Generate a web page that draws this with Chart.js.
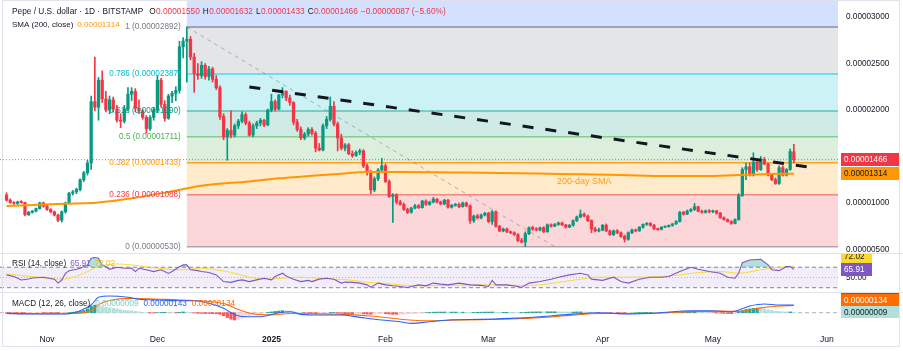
<!DOCTYPE html>
<html>
<head>
<meta charset="utf-8">
<title>Pepe / U.S. dollar 1D</title>
<script src="https://cdn.jsdelivr.net/npm/chart.js"></script>
<style>
  html, body { margin: 0; padding: 0; background: #ffffff; }
  #wrap { position: relative; width: 903px; height: 351px; overflow: hidden; background: #ffffff; }
  #wrap canvas { position: absolute; left: 0; }
  .sep { position: absolute; left: 0; width: 903px; height: 1px; background: #e0e3eb; }
  #frame { position: absolute; left: 2px; top: 0; width: 896px; height: 345px; border: 1px solid #e0e3eb; pointer-events: none; }
</style>
</head>
<body>
<div id="wrap">
  <canvas id="priceChart" width="903" height="256" style="top:0;width:903px;height:256px"></canvas>
  <canvas id="rsiChart" width="903" height="37" style="top:254px;width:903px;height:37px"></canvas>
  <canvas id="macdChart" width="903" height="58" style="top:293px;width:903px;height:58px"></canvas>
  <div class="sep" style="top:253px"></div>
  <div class="sep" style="top:292px"></div>
  <div id="frame"></div>
</div>
<script>
// prices are in units of 0.00000001 USD, days are counted from 1 Nov 2024
const UNIT = 1e-8;
const FIRST_DAY = -11; // 21 Oct 2024

const opens = [
  1086,1030,1005,995,1012,1005,875,900,912,940,
  1000,965,930,905,870,815,905,1000,1105,1120,
  1145,1250,1325,1430,2090,2030,2320,2120,2000,2110,
  2010,1890,1880,2010,2170,2200,2020,1990,1920,1800,
  1920,2000,2320,2060,1910,2150,2180,2210,2680,2740,
  2760,2570,2390,2370,2480,2360,2440,2330,2240,1930,
  1710,1780,1730,1830,1880,1950,1860,1730,1830,1860,
  1890,1840,2000,2090,2010,2160,2200,2130,2080,1870,
  1790,1700,1740,1790,1750,1590,1570,1830,1900,2040,
  1850,1700,1590,1625,1530,1510,1545,1560,1400,1330,
  1140,1260,1355,1400,1230,1070,1085,1010,985,930,
  900,945,970,950,1020,985,1010,1040,1010,990,
  1030,955,975,985,960,1000,970,810,860,840,
  870,890,800,905,750,700,720,690,680,660,
  595,580,670,735,720,710,735,690,765,750,
  770,785,765,740,760,810,850,880,860,810,
  720,700,710,760,700,660,700,680,640,610,
  680,710,700,740,770,780,760,720,715,740,
  745,760,775,800,900,880,915,930,960,910,
  900,915,905,915,890,840,820,800,780,820,
  1080,1360,1390,1300,1440,1360,1470,1420,1300,1250,
  1210,1380,1300,1360,1550
];
const highs = [
  1110,1045,1015,1020,1025,1010,910,920,945,1010,
  1010,975,940,915,880,915,1010,1115,1135,1160,
  1260,1340,1460,2150,2570,2350,2420,2200,2150,2140,
  2050,1960,2050,2240,2240,2230,2110,2010,1940,1940,
  2030,2370,2340,2100,2170,2200,2250,2740,2780,2892,
  2790,2610,2500,2520,2500,2470,2460,2370,2260,1960,
  1800,1990,1850,1900,1980,1970,1880,1850,1880,1910,
  1900,2010,2170,2110,2170,2240,2210,2160,2090,1900,
  1820,1760,1810,1810,1770,1640,1850,1930,2140,2090,
  1870,1740,1640,1640,1560,1560,1580,1575,1420,1350,
  1280,1370,1480,1420,1250,1100,1100,1030,1000,945,
  955,985,985,1030,1035,1020,1060,1050,1020,1040,
  1040,985,995,1000,1010,1010,980,870,880,880,
  900,900,920,915,760,730,730,700,690,670,
  620,690,745,750,735,740,745,775,775,780,
  795,795,770,770,820,860,925,895,870,820,
  740,730,770,775,710,710,715,690,655,690,
  720,720,745,775,790,790,770,730,745,755,
  765,780,810,910,910,925,940,995,965,925,
  925,930,925,920,900,850,830,810,830,1100,
  1380,1430,1430,1540,1460,1500,1490,1430,1320,1270,
  1400,1400,1370,1580,1632
];
const lows = [
  1020,995,985,985,998,860,865,890,905,935,
  955,920,895,860,800,795,890,990,1085,1100,
  1130,1230,1300,1360,1990,1890,2080,1980,1960,1980,
  1870,1810,1860,1990,2100,1980,1960,1900,1750,1780,
  1890,1970,2030,1880,1900,2080,2100,2180,2560,2300,
  2540,2190,2330,2340,2330,2320,2300,2220,1900,1680,
  1460,1700,1710,1800,1860,1840,1720,1710,1800,1830,
  1820,1830,1980,1990,2000,2130,2100,2050,1840,1770,
  1680,1680,1720,1730,1550,1560,1560,1800,1880,1830,
  1560,1570,1560,1520,1490,1500,1520,1380,1300,1100,
  1120,1240,1340,1220,1060,790,990,975,920,885,
  890,935,940,945,975,975,1000,1000,980,980,
  945,945,965,950,955,960,780,790,830,830,
  860,790,770,740,690,690,680,670,650,585,
  570,530,660,705,700,700,680,685,740,745,
  760,755,730,735,750,800,840,850,800,680,
  690,690,700,690,650,650,670,630,580,600,
  670,690,695,730,760,750,715,705,710,735,
  740,750,770,795,870,875,905,920,905,890,
  890,895,895,880,835,815,795,770,775,815,
  1070,1250,1290,1290,1340,1350,1410,1290,1240,1200,
  1200,1290,1290,1350,1433
];
const closes = [
  1030,1005,995,1012,1005,875,900,912,940,1000,
  965,930,905,870,815,905,1000,1105,1120,1145,
  1250,1325,1430,2090,2030,2320,2120,2000,2110,2010,
  1890,1880,2010,2170,2200,2020,1990,1920,1800,1920,
  2000,2320,2060,1910,2150,2180,2210,2680,2740,2760,
  2570,2390,2370,2480,2360,2440,2330,2240,1930,1710,
  1780,1730,1830,1880,1950,1860,1730,1830,1860,1890,
  1840,2000,2090,2010,2160,2200,2130,2080,1870,1790,
  1700,1740,1790,1750,1590,1570,1830,1900,2040,1850,
  1700,1590,1625,1530,1510,1545,1560,1400,1330,1140,
  1260,1355,1400,1230,1070,1085,1010,985,930,900,
  945,970,950,1020,985,1010,1040,1010,990,1030,
  955,975,985,960,1000,970,810,860,840,870,
  890,800,905,750,700,720,690,680,660,595,
  580,670,735,720,710,735,690,765,750,770,
  785,765,740,760,810,850,880,860,810,720,
  700,710,760,700,660,700,680,640,610,680,
  710,700,740,770,780,760,720,715,740,745,
  760,775,800,900,880,915,930,960,910,900,
  915,905,915,890,840,820,800,780,820,1080,
  1360,1390,1300,1440,1360,1470,1420,1300,1250,1210,
  1380,1300,1360,1553,1466
];

const smaDays = [-11, 1, 14, 23, 33, 42, 55, 63, 69, 78, 88, 96, 110, 123, 139, 156, 168, 178, 188, 197, 203];
const smaValues = [968, 986, 1005, 1050, 1118, 1186, 1232, 1265, 1283, 1310, 1333, 1333, 1328, 1323, 1312, 1301, 1290, 1290, 1301, 1312, 1314];

const rsiDays = [-11,-9,-7,-5,-4,-1,2,3,4,5,6,8,9,11,12,13,14,15,16,17,19,21,23,24,25,27,29,31,33,34,36,37,38,39,41,42,44,46,48,50,52,53,55,57,59,61,62,64,65,67,69,71,72,74,76,78,80,81,83,85,87,88,90,92,94,96,98,99,101,103,105,107,109,112,115,118,120,121,122,125,128,129,131,134,137,139,142,145,147,148,151,154,156,158,161,164,167,169,172,175,177,180,183,185,187,188,189,191,194,196,197,199,201,202,203];
const rsiValues = [55,52,45,47,49,50.5,46.7,39,45,58,63,66,68,74.5,87.5,89,87.5,74.5,71,66,70,68,68,61.5,68,65,61.5,65,58,61.5,71,74.5,74.5,65,63.4,61.5,59.6,55,42,40.4,44.3,45.3,42,45.3,48.6,45.3,51.8,58.3,53,46.7,42,44.3,42,46.7,48.6,46.7,39,41,40.4,39,35.6,31,39,35.6,33.7,32.4,30.4,32.4,35.6,33.7,39,37,35.6,39,35.6,34.6,32.4,44.3,35.6,35.6,32.4,30.4,39,42,46.7,50.5,55,58.3,55,46.7,44.3,50.5,42,39,46.7,50.5,50.5,51.8,61.5,70,66,61.5,58.3,50.5,48.6,58.3,79,84,85.5,74.5,65,63.4,71.2,71.2,65.91];
const rsiMaDays = [-11,-4,4,9,14,19,23,28,33,37,42,46,51,55,60,64,69,73,78,82,87,91,96,101,110,118,129,134,139,145,150,158,167,172,177,183,188,194,199,203];
const rsiMaValues = [56.5,51.8,46.7,55,71.2,76.4,74.5,70,66,65,68,65,58.3,50.5,46.7,48.6,50.5,48.6,46.7,45.3,40.4,39,35.6,33.7,34.6,35.6,34.6,35.6,40.4,46.7,50.5,50.5,51.8,55,59.6,61.5,58.3,65,70,72.02];
const rsiLevels = [30, 50, 70];

const macdDays = [-11,-4,5,9,12,14,17,22,25,31,36,40,44,48,51,54,58,63,66,69,74,80,85,91,96,99,104,110,118,126,134,142,150,158,167,175,180,186,191,195,199,203];
const macdValues = [-12,-24,-24,37,142,285,309,285,248,235,222,222,174,81,-37,-74,-74,0,19,-30,-43,-43,-86,-135,-166,-197,-166,-130,-123,-105,-74,-31,0,-24,0,37,37,19,124,161,142,143];
const signalDays = [-11,1,9,12,14,17,23,31,40,45,49,52,56,61,66,71,80,88,96,104,110,118,126,134,142,150,158,167,175,183,188,194,199,203];
const signalValues = [-15,-20,-10,40,150,225,265,250,225,200,150,60,-20,-40,-15,-20,-30,-60,-120,-150,-140,-130,-115,-90,-50,-15,-15,-5,20,30,25,90,125,134];
const histValues = [
  -8,-10,-12,-14,-15,-18,-16,-14,-10,-6,
  -8,-10,-12,-14,-14,-10,-4,4,10,18,
  25,40,70,120,140,130,115,100,90,80,
  70,55,45,40,35,25,15,8,0,-5,
  -5,0,5,8,5,0,-3,8,15,12,
  5,-5,-10,-12,-15,-15,-18,-20,-30,-55,
  -90,-120,-135,-125,-100,-75,-55,-40,-25,-15,
  -5,5,15,25,32,38,35,30,20,10,
  0,-5,-8,-12,-20,-18,-12,-5,2,5,
  -5,-12,-18,-20,-22,-20,-18,-20,-25,-30,
  -25,-20,-15,-18,-25,-30,-30,-28,-25,-22,
  -18,-12,-8,-2,2,5,10,12,12,14,
  12,12,12,10,10,8,5,6,8,10,
  12,12,14,10,8,8,8,6,5,3,
  4,8,12,15,16,17,16,18,18,18,
  17,15,13,12,13,15,16,14,10,5,
  0,-3,-2,-4,-6,-5,-6,-8,-10,-6,
  -2,0,3,5,6,6,5,3,4,5,
  6,8,10,14,14,15,15,16,12,8,
  5,2,-2,-5,-8,-12,-15,-18,-15,10,
  40,60,70,80,85,80,70,55,40,28,
  25,18,14,15,9
];

const monthDays = [0, 30, 61, 92, 120, 151, 181, 212];
const monthLabels = ['Nov', 'Dec', '2025', 'Feb', 'Mar', 'Apr', 'May', 'Jun'];
const priceTicks = [500, 1000, 1500, 2000, 2500, 3000];

const fibRatios = ['0', '0.236', '0.382', '0.5', '0.618', '0.786', '1'];
const fibPrices = [530, 1088, 1433, 1711, 1990, 2387, 2892];
const fibStartDay = 38, fibEndDay = 138;
const trendDays = [55, 209];
const trendPrices = [2247, 1376];
const smaNoteDay = 146, smaNotePrice = 1226;

// styles
const GREEN = '#089981', RED = '#f23645', ORANGE = '#ff9800';
const TEXT = '#131722';
const FONT = '"Liberation Sans", Arial, sans-serif';
const FIB_ABOVE = 'rgba(41,98,255,0.2)';
const FIB_FILLS = ['rgba(242,54,69,0.2)', 'rgba(255,152,0,0.2)', 'rgba(76,175,80,0.2)', 'rgba(8,153,129,0.2)', 'rgba(0,188,212,0.2)', 'rgba(120,123,134,0.2)'];
const FIB_LINES = ['rgba(120,123,134,0.6)', 'rgba(242,54,69,0.55)', 'rgba(255,152,0,0.85)', 'rgba(76,175,80,0.55)', 'rgba(8,153,129,0.55)', 'rgba(0,188,212,0.55)', 'rgba(120,123,134,0.8)'];
const FIB_TEXT = ['#787b86', '#f23645', '#ff9800', '#4caf50', '#089981', '#00bcd4', '#787b86'];
const X_MIN = -12.78, X_MAX = 215.0;

const last = closes.length - 1;
const fmt8 = v => v.toFixed(8);
const px = v => fmt8(v * UNIT);
const candleColor = i => (closes[i] >= opens[i] ? GREEN : RED);
const histColor = i => {
  const v = histValues[i], p = i > 0 ? histValues[i - 1] : 0;
  if (v >= 0) return v >= p ? '#26a69a' : '#b2dfdb';
  return v <= p ? '#ff5252' : '#ffcdd2';
};
const points = (days, vals, k) => days.map((d, i) => ({ x: d, y: vals[i] * k }));

function xAxis(show) {
  return {
    type: 'linear', min: X_MIN, max: X_MAX, offset: false, display: show,
    grid: { display: false, drawTicks: false }, border: { display: false },
    afterBuildTicks: s => { s.ticks = monthDays.map(v => ({ value: v })); },
    afterFit: s => { s.height = show ? 21 : 0; s.paddingLeft = 0; s.paddingRight = 0; },
    ticks: {
      autoSkip: false, maxRotation: 0, padding: 4, color: TEXT,
      callback: v => monthLabels[monthDays.indexOf(v)],
      font: c => ({ family: FONT, size: 8.6, weight: monthLabels[c.index] === '2025' ? 'bold' : 'normal' })
    }
  };
}
function yAxis(min, max, tickValues, fmt, showTicks) {
  return {
    position: 'right', min: min, max: max,
    grid: { display: false, drawTicks: true, tickLength: 8 }, border: { display: false },
    afterBuildTicks: s => { s.ticks = tickValues.map(v => ({ value: v })); },
    afterFit: s => { s.width = 65; s.paddingTop = 0; s.paddingBottom = 0; },
    ticks: { display: showTicks, padding: 0, color: TEXT, font: { family: FONT, size: 8.2 }, callback: fmt }
  };
}
const baseOptions = {
  responsive: false, animation: false, events: [],
  plugins: { legend: { display: false }, tooltip: { enabled: false } }
};

function segments(ctx, x, y, segs, size) {
  ctx.font = size + 'px ' + FONT;
  ctx.textBaseline = 'middle';
  ctx.textAlign = 'left';
  segs.forEach(s => {
    ctx.fillStyle = s[1];
    ctx.fillText(s[0], x, y);
    x += ctx.measureText(s[0]).width + (s[2] || 0);
  });
}
function tag(ctx, x, cy, w, h, bg, fg, text) {
  ctx.fillStyle = bg;
  ctx.fillRect(x, Math.round(cy - h / 2), w, h);
  ctx.font = '8.2px ' + FONT;
  ctx.fillStyle = fg;
  ctx.textAlign = 'left';
  ctx.textBaseline = 'middle';
  ctx.fillText(text, x + 3, Math.round(cy - h / 2) + h / 2 + 0.5);
}

const priceOverlay = {
  id: 'priceOverlay',
  beforeDatasetsDraw(chart) {
    const { ctx, chartArea: a, scales: { x, y } } = chart;
    const x0 = x.getPixelForValue(fibStartDay);
    const ys = fibPrices.map(p => y.getPixelForValue(p * UNIT));
    ctx.save();
    ctx.fillStyle = FIB_ABOVE;
    ctx.fillRect(x0, a.top, a.right - x0, ys[ys.length - 1] - a.top);
    for (let i = 0; i < ys.length - 1; i++) {
      ctx.fillStyle = FIB_FILLS[i];
      ctx.fillRect(x0, ys[i + 1], a.right - x0, ys[i] - ys[i + 1]);
    }
    ctx.lineWidth = 1.5;
    ys.forEach((yy, i) => {
      ctx.strokeStyle = FIB_LINES[i];
      ctx.beginPath(); ctx.moveTo(x0, yy); ctx.lineTo(a.right, yy); ctx.stroke();
    });
    ctx.setLineDash([4, 4]);
    ctx.lineWidth = 1;
    ctx.strokeStyle = 'rgba(120,123,134,0.55)';
    ctx.beginPath();
    ctx.moveTo(x0, ys[ys.length - 1]);
    ctx.lineTo(x.getPixelForValue(fibEndDay), ys[0]);
    ctx.stroke();
    ctx.restore();
  },
  afterDatasetsDraw(chart) {
    const { ctx, chartArea: a, scales: { x, y } } = chart;
    ctx.save();
    // last price line
    const yl = y.getPixelForValue(closes[last] * UNIT);
    ctx.setLineDash([1, 2]);
    ctx.lineWidth = 1;
    ctx.strokeStyle = 'rgba(242,54,69,0.75)';
    ctx.beginPath(); ctx.moveTo(a.left, yl); ctx.lineTo(a.right, yl); ctx.stroke();
    // falling trend line
    ctx.setLineDash([11, 12]);
    ctx.lineWidth = 3;
    ctx.strokeStyle = '#131722';
    ctx.beginPath();
    ctx.moveTo(x.getPixelForValue(trendDays[0]), y.getPixelForValue(trendPrices[0] * UNIT));
    ctx.lineTo(x.getPixelForValue(trendDays[1]), y.getPixelForValue(trendPrices[1] * UNIT));
    ctx.stroke();
    ctx.setLineDash([]);
    // note on the moving average
    ctx.font = '9px ' + FONT;
    ctx.fillStyle = 'rgba(255,152,0,0.95)';
    ctx.textAlign = 'center';
    ctx.textBaseline = 'middle';
    ctx.fillText('200-day SMA', x.getPixelForValue(smaNoteDay), y.getPixelForValue(smaNotePrice * UNIT));
    // fib labels
    const x0 = x.getPixelForValue(fibStartDay);
    ctx.font = '8.2px ' + FONT;
    ctx.textAlign = 'right';
    fibPrices.forEach((p, i) => {
      ctx.fillStyle = FIB_TEXT[i];
      ctx.fillText(fibRatios[i] + ' (' + px(p) + ')', x0 - 6, y.getPixelForValue(p * UNIT));
    });
    ctx.restore();
  },
  afterDraw(chart) {
    const { ctx, chartArea: a, scales: { y } } = chart;
    ctx.save();
    const chg = closes[last] - closes[last - 1];
    const pct = chg / closes[last - 1] * 100;
    segments(ctx, 12, 12, [
      ['Pepe / U.S. dollar \u00b7 1D \u00b7 BITSTAMP', TEXT, 6],
      ['O', TEXT, 0.3], [px(opens[last]), RED, 3],
      ['H', TEXT, 0.3], [px(highs[last]), RED, 3],
      ['L', TEXT, 0.3], [px(lows[last]), RED, 3],
      ['C', TEXT, 0.3], [px(closes[last]), RED, 3],
      [(chg < 0 ? '\u2212' : '+') + px(Math.abs(chg)) + ' (' + (pct < 0 ? '\u2212' : '+') + Math.abs(pct).toFixed(2) + '%)', RED]
    ], 8.3);
    segments(ctx, 12, 24.5, [
      ['SMA (200, close)', TEXT, 4],
      [px(smaValues[smaValues.length - 1]), ORANGE]
    ], 8.0);
    tag(ctx, a.right + 3, y.getPixelForValue(closes[last] * UNIT), 58, 13, RED, '#ffffff', px(closes[last]));
    tag(ctx, a.right + 3, y.getPixelForValue(smaValues[smaValues.length - 1] * UNIT), 58, 13, ORANGE, TEXT, px(smaValues[smaValues.length - 1]));
    ctx.restore();
  }
};

const rsiOverlay = {
  id: 'rsiOverlay',
  beforeDatasetsDraw(chart) {
    const { ctx, chartArea: a, scales: { y } } = chart;
    const ly = rsiLevels.map(v => y.getPixelForValue(v));
    ctx.save();
    ctx.fillStyle = 'rgba(126,87,194,0.1)';
    ctx.fillRect(a.left, ly[2], a.right - a.left, ly[0] - ly[2]);
    ctx.lineWidth = 1;
    ctx.setLineDash([4, 3]);
    ctx.strokeStyle = 'rgba(120,123,134,0.9)';
    [ly[0], ly[2]].forEach(yy => { ctx.beginPath(); ctx.moveTo(a.left, yy); ctx.lineTo(a.right, yy); ctx.stroke(); });
    ctx.setLineDash([1, 2]);
    ctx.strokeStyle = 'rgba(120,123,134,0.5)';
    ctx.beginPath(); ctx.moveTo(a.left, ly[1]); ctx.lineTo(a.right, ly[1]); ctx.stroke();
    ctx.restore();
  },
  afterDraw(chart) {
    const { ctx, chartArea: a, scales: { y } } = chart;
    const r = rsiValues[rsiValues.length - 1], m = rsiMaValues[rsiMaValues.length - 1];
    ctx.save();
    segments(ctx, 12, 10, [['RSI (14, close)', TEXT, 4], [r.toFixed(2), '#7e57c2', 4], [m.toFixed(2), '#e6bf1a']], 8.2);
    const cy = y.getPixelForValue(r);
    tag(ctx, a.right + 3, cy - 13, 31, 13, '#fdd835', TEXT, m.toFixed(2));
    tag(ctx, a.right + 3, cy, 31, 13, '#7e57c2', '#ffffff', r.toFixed(2));
    ctx.restore();
  }
};

const macdOverlay = {
  id: 'macdOverlay',
  beforeDatasetsDraw(chart) {
    const { ctx, chartArea: a, scales: { y } } = chart;
    const y0 = y.getPixelForValue(0);
    ctx.save();
    ctx.setLineDash([4, 3]);
    ctx.lineWidth = 1;
    ctx.strokeStyle = 'rgba(120,123,134,0.6)';
    ctx.beginPath(); ctx.moveTo(a.left, y0); ctx.lineTo(a.right, y0); ctx.stroke();
    ctx.restore();
  },
  afterDraw(chart) {
    const { ctx, chartArea: a, scales: { y } } = chart;
    const h = histValues[histValues.length - 1];
    const mv = macdValues[macdValues.length - 1];
    const sv = signalValues[signalValues.length - 1];
    ctx.save();
    segments(ctx, 12, 10.5, [
      ['MACD (12, 26, close)', TEXT, 5],
      [px(h), '#80cbc4', 5], [px(mv), '#2962ff', 5], [px(sv), '#ff6d00']
    ], 8.2);
    const cy = y.getPixelForValue(h * UNIT);
    tag(ctx, a.right + 3, cy - 24, 58, 12, '#2962ff', '#ffffff', px(mv));
    tag(ctx, a.right + 3, cy - 12, 58, 12, '#ff6d00', '#ffffff', px(sv));
    tag(ctx, a.right + 3, cy, 58, 12, '#b2dfdb', TEXT, px(h));
    ctx.restore();
  }
};

const idx = opens.map((_, i) => i);

new Chart(document.getElementById('priceChart'), {
  type: 'bar',
  data: {
    datasets: [
      {
        type: 'line', label: 'SMA (200, close)',
        data: points(smaDays, smaValues, UNIT),
        borderColor: ORANGE, borderWidth: 2, pointRadius: 0,
        cubicInterpolationMode: 'monotone', order: 0
      },
      {
        label: 'body',
        data: idx.map(i => ({ x: FIRST_DAY + i, y: [opens[i] * UNIT, closes[i] * UNIT] })),
        backgroundColor: c => candleColor(c.dataIndex),
        barThickness: 2.6, minBarLength: 1, grouped: false, order: 1
      },
      {
        label: 'wick',
        data: idx.map(i => ({ x: FIRST_DAY + i, y: [lows[i] * UNIT, highs[i] * UNIT] })),
        backgroundColor: c => candleColor(c.dataIndex),
        barThickness: 1, grouped: false, order: 2
      }
    ]
  },
  options: Object.assign({}, baseOptions, {
    layout: { padding: { top: 0, bottom: 4, left: 0, right: 0 } },
    scales: {
      x: xAxis(false),
      y: yAxis(473.0 * UNIT, 3182.8 * UNIT, priceTicks.map(v => v * UNIT), v => fmt8(v), true)
    }
  }),
  plugins: [priceOverlay]
});

new Chart(document.getElementById('rsiChart'), {
  type: 'line',
  data: {
    datasets: [
      {
        label: 'RSI', data: points(rsiDays, rsiValues, 1),
        borderColor: '#7e57c2', borderWidth: 1.1, pointRadius: 0, order: 0,
        fill: { target: { value: 70 }, above: 'rgba(8,153,129,0.3)', below: 'rgba(0,0,0,0)' }
      },
      {
        label: 'RSI MA', data: points(rsiMaDays, rsiMaValues, 1),
        borderColor: '#fdd835', borderWidth: 1, pointRadius: 0,
        cubicInterpolationMode: 'monotone', order: 1
      }
    ]
  },
  options: Object.assign({}, baseOptions, {
    layout: { padding: 0 },
    scales: {
      x: xAxis(false),
      y: yAxis(23.59, 95.83, [50], v => v.toFixed(2), true)
    }
  }),
  plugins: [rsiOverlay]
});

new Chart(document.getElementById('macdChart'), {
  type: 'bar',
  data: {
    datasets: [
      {
        type: 'line', label: 'MACD', data: points(macdDays, macdValues, UNIT),
        borderColor: '#2962ff', borderWidth: 1.1, pointRadius: 0,
        cubicInterpolationMode: 'monotone', order: 0
      },
      {
        type: 'line', label: 'Signal', data: points(signalDays, signalValues, UNIT),
        borderColor: '#ff6d00', borderWidth: 1.1, pointRadius: 0,
        cubicInterpolationMode: 'monotone', order: 1
      },
      {
        label: 'Histogram',
        data: idx.map(i => ({ x: FIRST_DAY + i, y: histValues[i] * UNIT })),
        backgroundColor: c => histColor(c.dataIndex),
        barThickness: 2.6, grouped: false, order: 2
      }
    ]
  },
  options: Object.assign({}, baseOptions, {
    layout: { padding: 0 },
    scales: {
      x: xAxis(true),
      y: yAxis(-320 * UNIT, 365 * UNIT, [0], v => fmt8(v), false)
    }
  }),
  plugins: [macdOverlay]
});
</script>
</body>
</html>
